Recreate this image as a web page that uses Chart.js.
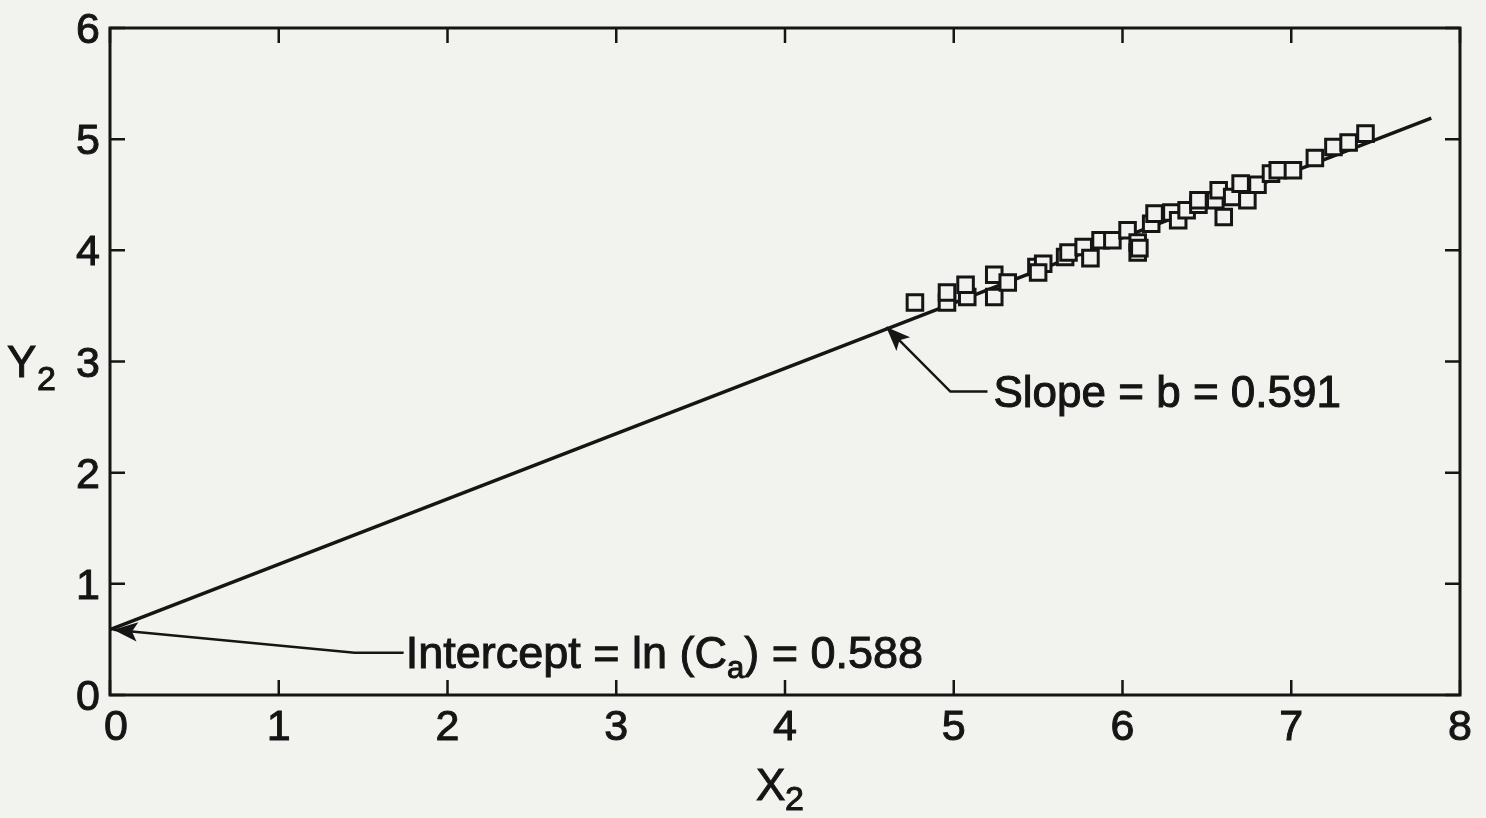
<!DOCTYPE html>
<html>
<head>
<meta charset="utf-8">
<script src="https://cdn.jsdelivr.net/npm/chart.js@4.4.1/dist/chart.umd.min.js"></script>
<style>
  html, body { margin: 0; padding: 0; background: #f2f2ee; }
  #wrap { width: 1486px; height: 818px; position: relative; }
</style>
</head>
<body>
<div id="wrap"><canvas id="fit-chart"></canvas></div>
<script>
const xValues = [4.77, 4.96, 4.96, 5.08, 5.07, 5.24, 5.24, 5.32, 5.49, 5.53, 5.50,
                 5.66, 5.68, 5.77, 5.81, 5.87, 5.94, 6.03, 6.09, 6.09, 6.10, 6.17, 6.19,
                 6.29, 6.33, 6.38, 6.45, 6.45, 6.55, 6.57, 6.60, 6.65, 6.70, 6.74, 6.80,
                 6.88, 6.92, 7.01, 7.14, 7.25, 7.34, 7.44];
const yValues = [3.53, 3.53, 3.62, 3.58, 3.69, 3.58, 3.78, 3.71, 3.85, 3.88, 3.80,
                 3.94, 3.98, 4.03, 3.93, 4.09, 4.09, 4.18, 4.07, 3.98, 4.02, 4.24, 4.33,
                 4.34, 4.27, 4.36, 4.41, 4.45, 4.45, 4.54, 4.30, 4.48, 4.60, 4.45, 4.59,
                 4.69, 4.72, 4.72, 4.83, 4.93, 4.97, 5.05];

// regression line end points
const fitX = [0, 7.83];
const fitY = [0.588, 5.19];

const xTicks = [0, 1, 2, 3, 4, 5, 6, 7, 8];
const yTicks = [0, 1, 2, 3, 4, 5, 6];

const slopeText = 'Slope = b = 0.591';
const interceptText = ['Intercept = ln (C', 'a', ') = 0.588'];

const BG = '#f2f2ee';
const INK = '#151515';
const SANS = '"Liberation Sans", Arial, Helvetica, sans-serif';

// filled text with a thin outline so it looks as heavy as the print
function inkText(ctx, s, x, y) {
    ctx.fillText(s, x, y);
    ctx.lineWidth = 1;
    ctx.strokeText(s, x, y);
}

function arrow(ctx, pts, head) {
    ctx.beginPath();
    ctx.moveTo(pts[0][0], pts[0][1]);
    for (let i = 1; i < pts.length; i++) ctx.lineTo(pts[i][0], pts[i][1]);
    ctx.stroke();
    const [x2, y2] = pts[pts.length - 1];
    const [x1, y1] = pts[pts.length - 2];
    const a = Math.atan2(y2 - y1, x2 - x1);
    ctx.beginPath();
    ctx.moveTo(x2, y2);
    ctx.lineTo(x2 - head * Math.cos(a - 0.38), y2 - head * Math.sin(a - 0.38));
    ctx.lineTo(x2 - head * 0.72 * Math.cos(a), y2 - head * 0.72 * Math.sin(a));
    ctx.lineTo(x2 - head * Math.cos(a + 0.38), y2 - head * Math.sin(a + 0.38));
    ctx.closePath();
    ctx.fill();
}

const decorPlugin = {
    id: 'decor',
    beforeDraw(chart) {
        const ctx = chart.ctx;
        ctx.save();
        ctx.fillStyle = BG;
        ctx.fillRect(0, 0, chart.width, chart.height);
        ctx.restore();
    },
    afterDraw(chart) {
        const ctx = chart.ctx;
        const a = chart.chartArea;
        const xs = chart.scales.x, ys = chart.scales.y;
        ctx.save();
        ctx.strokeStyle = INK;
        ctx.fillStyle = INK;

        // frame
        ctx.lineWidth = 3;
        ctx.strokeRect(a.left, a.top, a.right - a.left, a.bottom - a.top);

        // inward ticks on all four sides
        ctx.lineWidth = 2.5;
        const tl = 15;
        xTicks.forEach(v => {
            const px = xs.getPixelForValue(v);
            ctx.beginPath();
            ctx.moveTo(px, a.bottom); ctx.lineTo(px, a.bottom - tl);
            ctx.moveTo(px, a.top); ctx.lineTo(px, a.top + tl);
            ctx.stroke();
        });
        yTicks.forEach(v => {
            const py = ys.getPixelForValue(v);
            ctx.beginPath();
            ctx.moveTo(a.left, py); ctx.lineTo(a.left + tl, py);
            ctx.moveTo(a.right, py); ctx.lineTo(a.right - tl, py);
            ctx.stroke();
        });

        // tick labels
        ctx.font = '43px ' + SANS;
        ctx.textAlign = 'center';
        ctx.textBaseline = 'alphabetic';
        xTicks.forEach(v => {
            let px = xs.getPixelForValue(v);
            if (v === 0) px += 6;
            inkText(ctx, String(v), px, 740);
        });
        ctx.textAlign = 'right';
        yTicks.forEach(v => {
            inkText(ctx, String(v), 100, ys.getPixelForValue(v) + 15);
        });

        // axis titles with subscripts
        ctx.textAlign = 'left';
        ctx.font = '44px ' + SANS;
        inkText(ctx, 'X', 756, 800);
        ctx.font = '34px ' + SANS;
        inkText(ctx, '2', 785, 810);

        ctx.font = '44px ' + SANS;
        inkText(ctx, 'Y', 7, 377);
        ctx.font = '34px ' + SANS;
        inkText(ctx, '2', 37, 390);

        // slope annotation
        ctx.lineWidth = 2.5;
        const sTip = [xs.getPixelForValue(4.6), ys.getPixelForValue(3.31)];
        const sKnee = [xs.getPixelForValue(4.98), ys.getPixelForValue(2.73)];
        const sEnd = [xs.getPixelForValue(5.2), ys.getPixelForValue(2.73)];
        arrow(ctx, [sEnd, sKnee, sTip], 26);
        ctx.font = '44px ' + SANS;
        inkText(ctx, slopeText, sEnd[0] + 6, sEnd[1] + 15);

        // intercept annotation
        ctx.lineWidth = 2.5;
        const iTip = [xs.getPixelForValue(0.02), ys.getPixelForValue(0.588)];
        const iKnee = [xs.getPixelForValue(1.45), ys.getPixelForValue(0.38)];
        const iEnd = [xs.getPixelForValue(1.74), ys.getPixelForValue(0.38)];
        arrow(ctx, [iEnd, iKnee, iTip], 26);
        let tx = iEnd[0] + 2;
        const ty = iEnd[1] + 15;
        ctx.font = '45px ' + SANS;
        inkText(ctx, interceptText[0], tx, ty);
        tx += ctx.measureText(interceptText[0]).width;
        ctx.font = '31px ' + SANS;
        inkText(ctx, interceptText[1], tx, ty + 10);
        tx += ctx.measureText(interceptText[1]).width;
        ctx.font = '45px ' + SANS;
        inkText(ctx, interceptText[2], tx, ty);

        ctx.restore();
    }
};

const points = xValues.map((x, i) => ({ x: x, y: yValues[i] }));
const fitLine = fitX.map((x, i) => ({ x: x, y: fitY[i] }));

new Chart(document.getElementById('fit-chart'), {
    type: 'scatter',
    data: {
        datasets: [
            {
                label: 'Data',
                data: points,
                pointStyle: 'rect',
                pointRadius: 11,
                pointBackgroundColor: BG,
                pointBorderColor: INK,
                pointBorderWidth: 3,
                order: 0
            },
            {
                type: 'line',
                label: 'Fit',
                data: fitLine,
                borderColor: INK,
                borderWidth: 3.5,
                pointRadius: 0,
                fill: false,
                order: 1
            }
        ]
    },
    options: {
        responsive: true,
        maintainAspectRatio: false,
        animation: false,
        layout: { padding: { left: 110, right: 26, top: 28, bottom: 123 } },
        plugins: {
            legend: { display: false },
            tooltip: { enabled: false }
        },
        scales: {
            x: { type: 'linear', min: 0, max: 8, display: false },
            y: { type: 'linear', min: 0, max: 6, display: false }
        }
    },
    plugins: [decorPlugin]
});
</script>
</body>
</html>
